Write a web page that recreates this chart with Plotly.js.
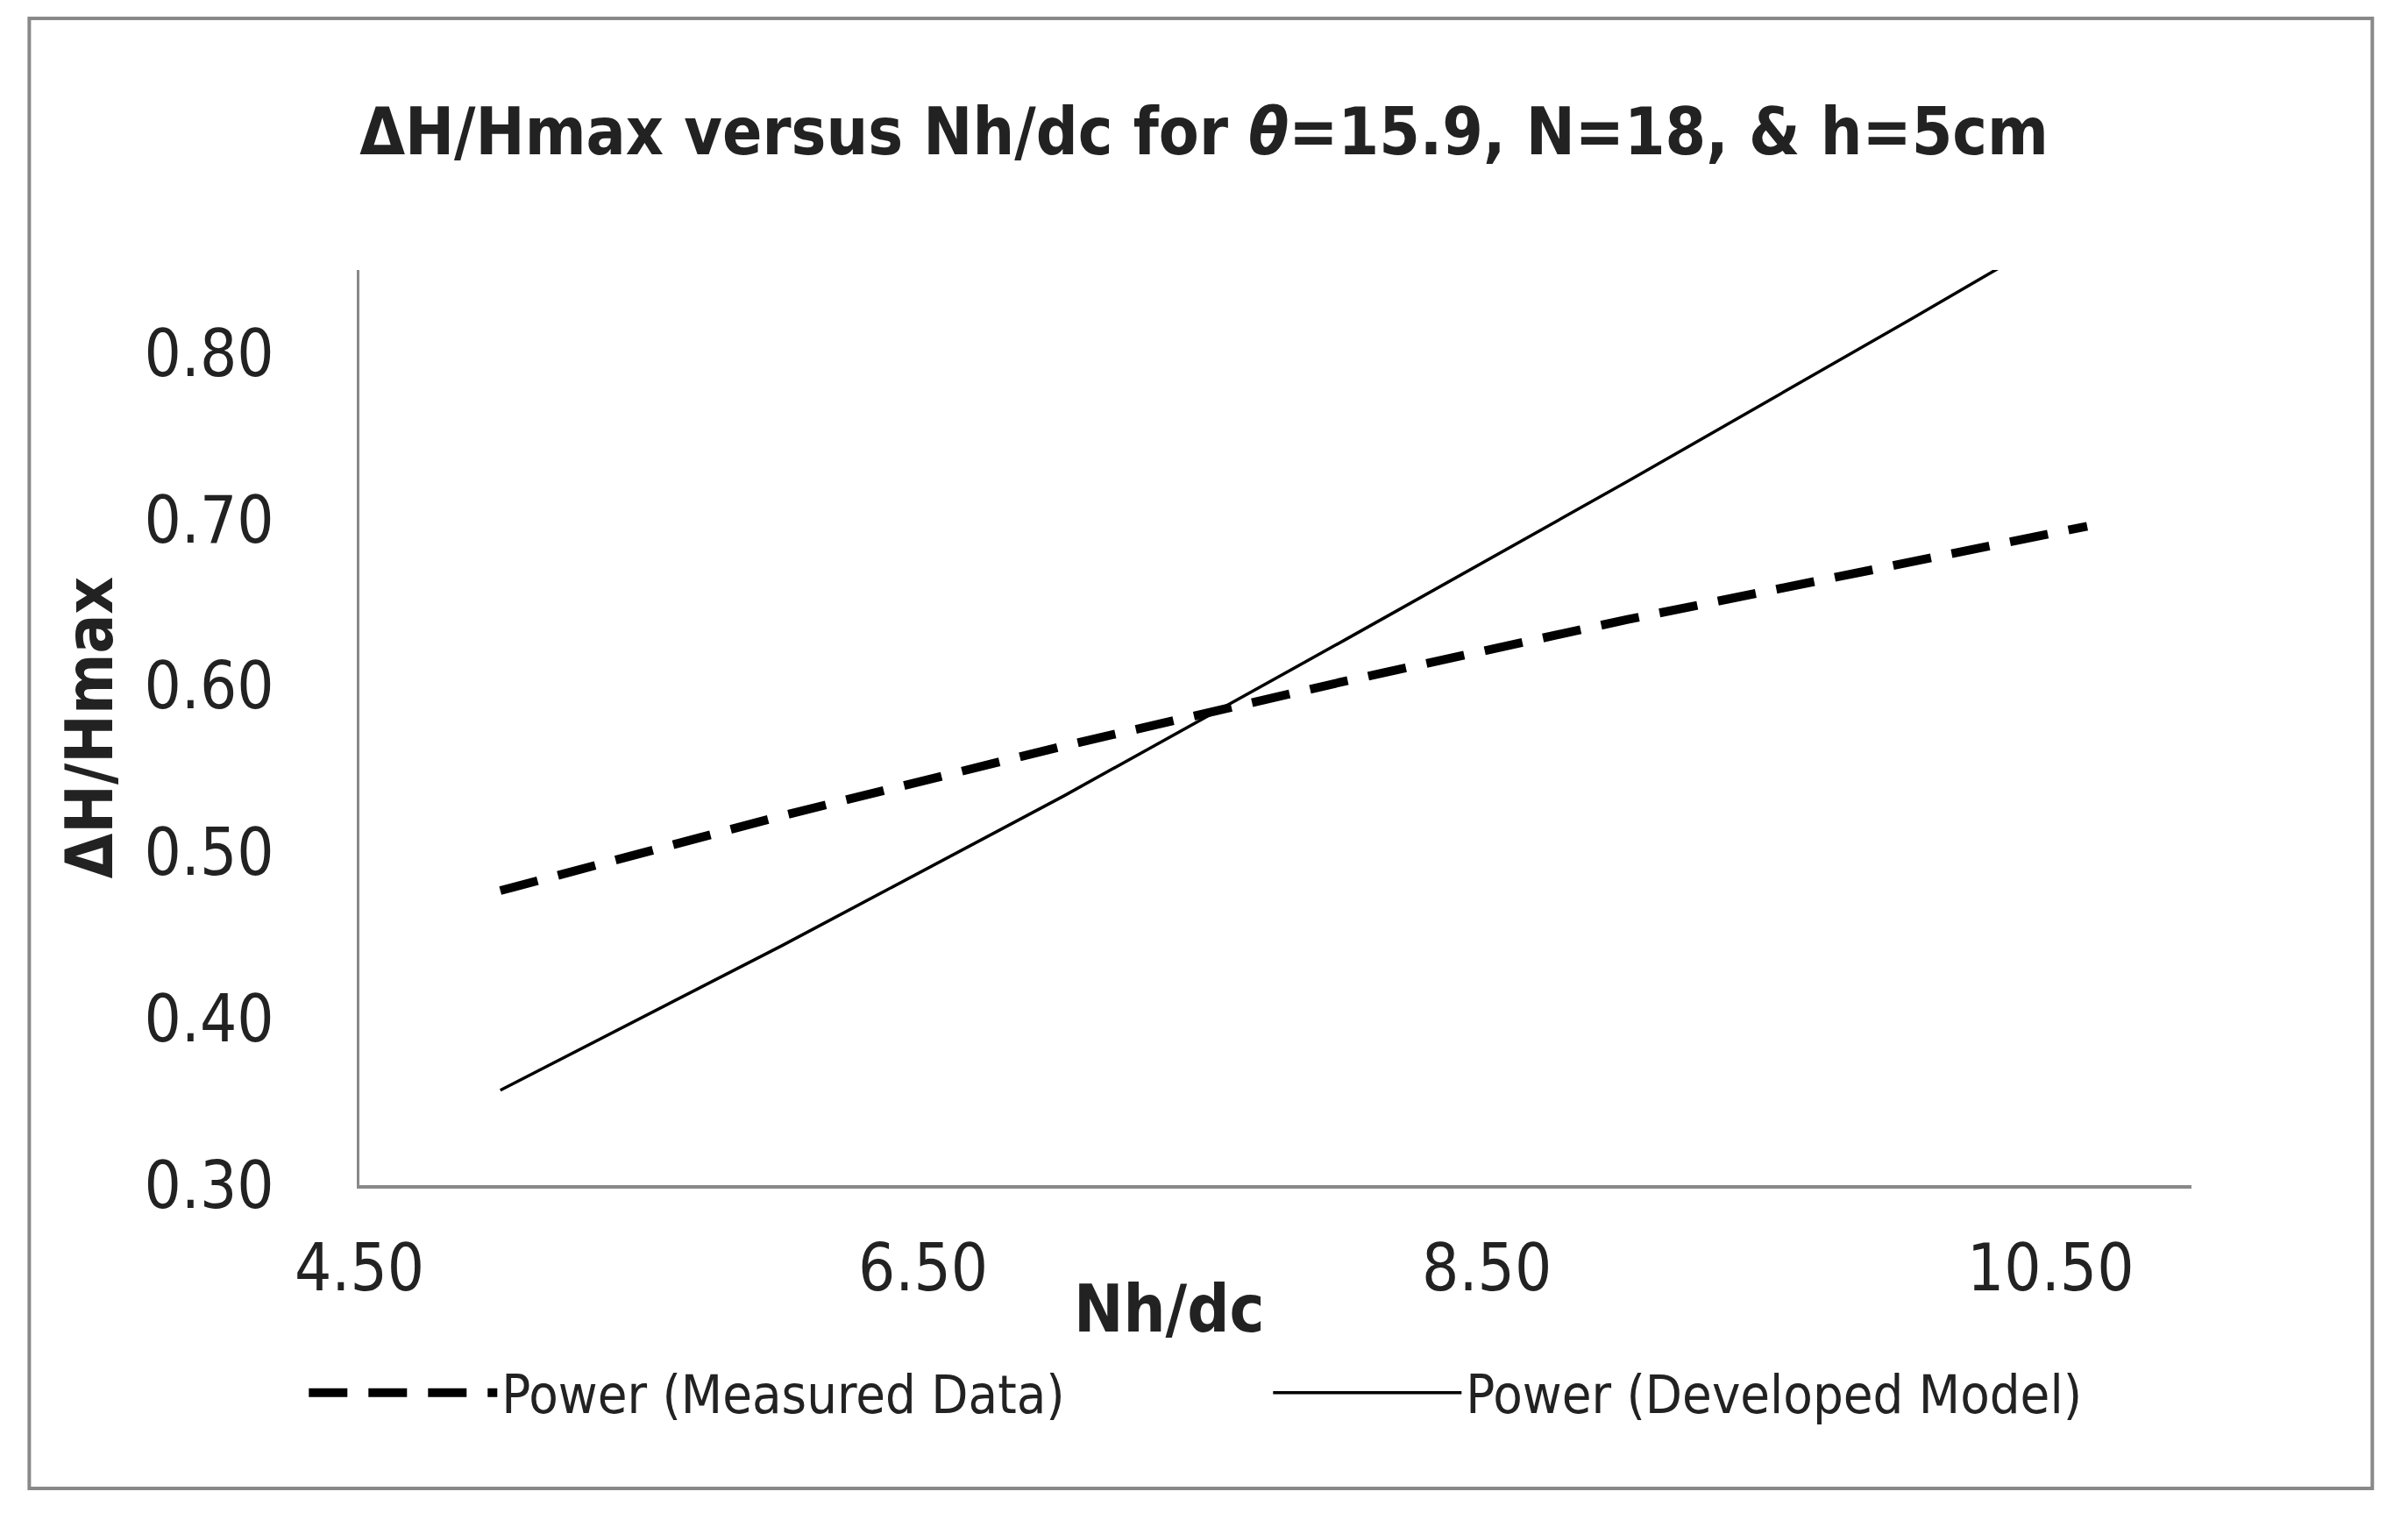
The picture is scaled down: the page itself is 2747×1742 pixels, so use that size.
<!DOCTYPE html>
<html>
<head>
<meta charset="utf-8">
<script src="https://cdn.plot.ly/plotly-3.0.1.min.js"></script>
<style>html,body{margin:0;padding:0;background:#fff;}#chart{width:2747px;height:1742px;}</style>
</head>
<body>
<div id="chart"></div>
<script>
// Values
const measuredX = [5.0, 6.0, 7.0, 8.0, 9.0, 10.0, 10.63];
const measuredY = [0.477, 0.522, 0.564, 0.603, 0.640, 0.675, 0.696];
const modelX = [5.0, 6.0, 7.0, 8.0, 9.0, 10.0, 10.63];
const modelY = [0.357, 0.444, 0.534, 0.628, 0.723, 0.820, 0.882];
const seriesNames = ["Power (Measured Data)", "Power (Developed Model)"];
const xTickVals = [4.5, 6.5, 8.5, 10.5];
const yTickVals = [0.30, 0.40, 0.50, 0.60, 0.70, 0.80];

const FONT = "Liberation Sans Narrow, DejaVu Sans Condensed, Arial Narrow, sans-serif";
const TXT = "#222222";
const AXIS = "#898989";

const traces = [
  {x: measuredX, y: measuredY, name: seriesNames[0], type: "scatter", mode: "lines",
   line: {color: "#000000", width: 10, dash: "44px,24px"}},
  {x: modelX, y: modelY, name: seriesNames[1], type: "scatter", mode: "lines",
   line: {color: "#000000", width: 3.5}}
];

const layout = {
  width: 2747, height: 1742,
  paper_bgcolor: "#ffffff", plot_bgcolor: "#ffffff",
  margin: {l: 410, r: 247, t: 308, b: 390},
  font: {family: FONT, color: TXT},
  title: {text: "<b>ΔH/Hmax versus Nh/dc for <i>θ</i>=15.9, N=18, &amp; h=5cm</b>",
          x: 0.5, xanchor: "center", y: 0.914, yanchor: "middle",
          font: {family: FONT, size: 74.5, color: TXT}},
  xaxis: {range: [4.5, 11.0], tickvals: xTickVals, tickformat: ".2f",
          showgrid: false, zeroline: false, showline: true, linecolor: AXIS, linewidth: 3.5,
          ticks: "", ticklabelstandoff: 28,
          tickfont: {family: FONT, size: 74, color: TXT}},
  yaxis: {range: [0.30, 0.85], tickvals: yTickVals, tickformat: ".2f",
          showgrid: false, zeroline: false, showline: true, linecolor: AXIS, linewidth: 3.5,
          ticks: "", ticklabelstandoff: 79,
          tickfont: {family: FONT, size: 74, color: TXT},
          title: {text: "<b>ΔH/Hmax</b>", standoff: 12, font: {family: FONT, size: 74, color: TXT}}},
  annotations: [
    {text: "<b>Nh/dc</b>", xref: "paper", yref: "paper", x: 0.442, y: -0.135,
     xanchor: "center", yanchor: "middle", showarrow: false,
     font: {family: FONT, size: 75, color: TXT}}
  ],
  showlegend: true,
  legend: {orientation: "h", x: -0.03, xanchor: "left", y: -0.227, yanchor: "middle",
           itemwidth: 215, entrywidth: 870, entrywidthmode: "pixels",
           font: {family: FONT, size: 61, color: TXT}, bgcolor: "rgba(0,0,0,0)"},
  shapes: [
    {type: "rect", xref: "paper", yref: "paper", x0: -0.1802, x1: 1.0987, y0: -0.3314, y1: 1.2749,
     line: {color: AXIS, width: 4}, fillcolor: "rgba(0,0,0,0)", layer: "below"}
  ]
};

Plotly.newPlot("chart", traces, layout, {staticPlot: true, displayModeBar: false});
</script>
</body>
</html>
